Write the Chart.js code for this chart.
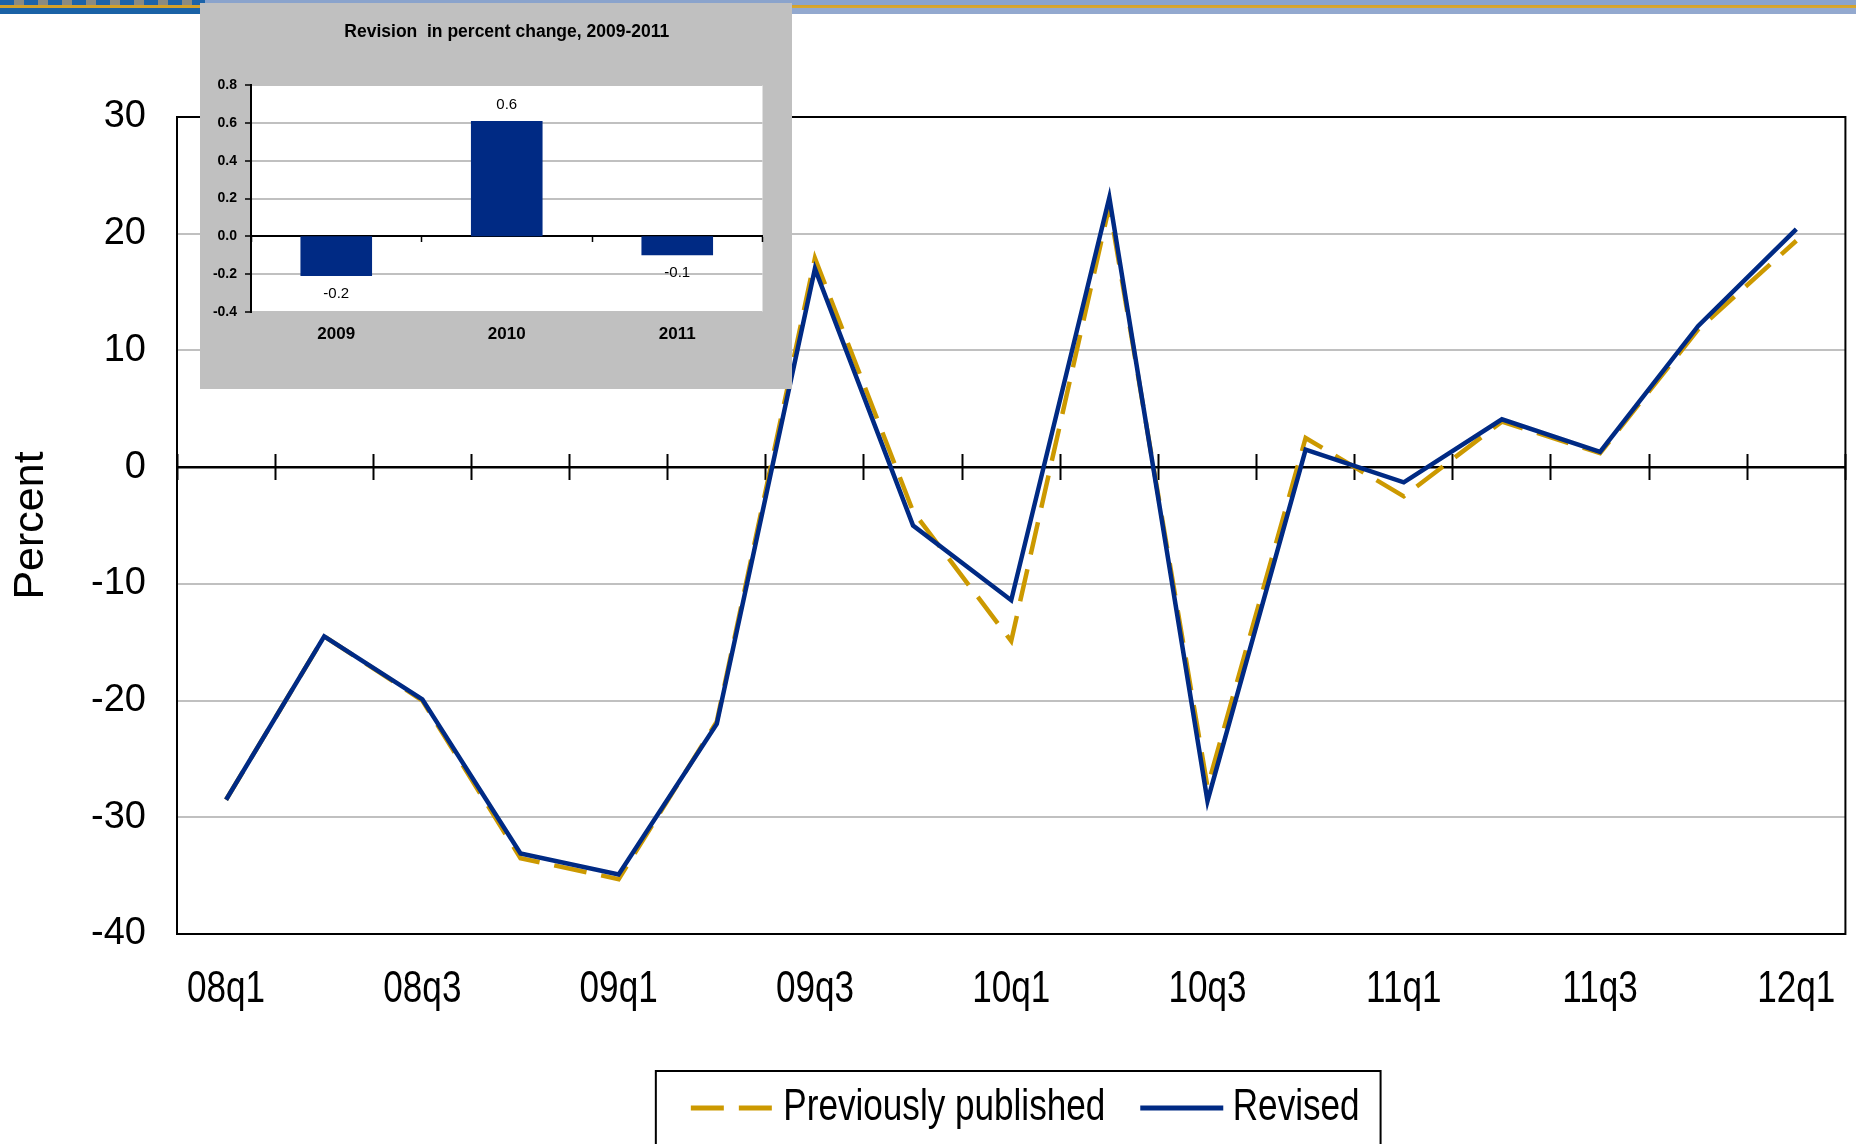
<!DOCTYPE html>
<html>
<head>
<meta charset="utf-8">
<script src="https://cdn.jsdelivr.net/npm/chart.js@4.4.1/dist/chart.umd.min.js"></script>
<style>
  html, body { margin: 0; padding: 0; background: #ffffff; }
  body { width: 1856px; height: 1144px; position: relative; overflow: hidden; }
  #banner { position: absolute; left: 0; top: 0; width: 1856px; height: 14px;
    background: linear-gradient(to bottom, #8aa3cc 0px, #8aa3cc 5px, #d4a12a 5px, #d9a830 8px, #93a9cf 8px, #93a9cf 14px); }
  #bannerLeft { position: absolute; left: 0; top: 0; width: 205px; height: 14px;
    background:
      linear-gradient(to bottom, transparent 0px, transparent 5px, #d4a12a 5px, #d4a12a 8px, #1a62a6 8px, #1a62a6 14px),
      repeating-linear-gradient(to right, #1c63a9 0px, #1c63a9 14px, #8c8b80 14px, #8c8b80 24px); }
  #main { position: absolute; left: 0; top: 0; width: 1856px; height: 1144px; }
  #insetWrap { position: absolute; left: 200px; top: 3px; width: 592px; height: 386px; background: #c0c0c0; }
</style>
</head>
<body>
<div id="banner"></div>
<div id="bannerLeft"></div>
<div id="main"><canvas id="mainChart" width="1856" height="1144"></canvas></div>
<div id="insetWrap"><canvas id="insetChart" width="592" height="386"></canvas></div>
<script>
// ---------- Data ----------
const quarters = ["08q1","08q2","08q3","08q4","09q1","09q2","09q3","09q4","10q1","10q2","10q3","10q4","11q1","11q2","11q3","11q4","12q1"];
const previouslyPublished = [-28.5, -14.5, -20.0, -33.5, -35.3, -21.8, 17.9, -3.8, -14.9, 22.4, -27.4, 2.5, -2.5, 3.9, 1.2, 11.8, 19.4];
const revised = [-28.5, -14.5, -19.9, -33.1, -34.9, -22.0, 17.0, -5.0, -11.4, 23.1, -28.6, 1.5, -1.3, 4.1, 1.3, 12.1, 20.4];
const yMin = -40, yMax = 30, yStep = 10;

const insetYears = ["2009", "2010", "2011"];
const insetRevision = [-0.21, 0.61, -0.10];
const insetMin = -0.4, insetMax = 0.8, insetStep = 0.2;
const insetTitle = "Revision  in percent change, 2009-2011";

// ---------- Style ----------
const NAVY = "#002A84";
const GOLD = "#CC9900";
const GRID = "#c0c0c0";
const SANS = '"Liberation Sans", Arial, sans-serif';
// "NarrowX" / "NarrowL" are not real fonts: they mark text that the narrowText plugin draws condensed
// (NarrowL also tightens the gap between a legend sample and its text).
const NARROW = 'NarrowX, "Liberation Sans", Arial, sans-serif';
const NARROW_LEGEND = 'NarrowL, "Liberation Sans", Arial, sans-serif';
const NARROW_SCALE = 0.78;
const LEGEND_GAP_TIGHTEN = 13;
const LEGEND_SHIFT = 14;

// ---------- Plugins ----------
const narrowText = {
  id: 'narrowText',
  beforeInit(chart) {
    const ctx = chart.ctx;
    const origFill = ctx.fillText.bind(ctx);
    const origMeasure = ctx.measureText.bind(ctx);
    const mode = () => {
      const f = String(ctx.font);
      if (f.indexOf('NarrowL') !== -1) return 2;
      if (f.indexOf('NarrowX') !== -1) return 1;
      return 0;
    };
    ctx.fillText = function (text, x, y, maxWidth) {
      const md = mode();
      if (md) {
        ctx.save();
        ctx.translate(md === 2 ? x - LEGEND_GAP_TIGHTEN : x, y);
        ctx.scale(NARROW_SCALE, 1);
        origFill(text, 0, 0);
        ctx.restore();
      } else if (maxWidth === undefined) {
        origFill(text, x, y);
      } else {
        origFill(text, x, y, maxWidth);
      }
    };
    ctx.measureText = function (text) {
      const m = origMeasure(text);
      const md = mode();
      if (md) {
        return {
          width: m.width * NARROW_SCALE - (md === 2 ? LEGEND_GAP_TIGHTEN : 0),
          actualBoundingBoxAscent: m.actualBoundingBoxAscent,
          actualBoundingBoxDescent: m.actualBoundingBoxDescent,
          actualBoundingBoxLeft: m.actualBoundingBoxLeft * NARROW_SCALE,
          actualBoundingBoxRight: m.actualBoundingBoxRight * NARROW_SCALE
        };
      }
      return m;
    };
  }
};

const legendNudge = {
  id: 'legendNudge',
  afterLayout(chart) {
    const lg = chart.legend;
    if (lg) { lg.left += LEGEND_SHIFT; lg.right += LEGEND_SHIFT; }
  }
};

const areaBorder = {
  id: 'areaBorder',
  afterDatasetsDraw(chart, args, opts) {
    if (!opts || !opts.draw) return;
    const {ctx, chartArea: a} = chart;
    ctx.save();
    ctx.strokeStyle = '#000';
    ctx.lineWidth = 2;
    ctx.strokeRect(a.left, a.top, a.right - a.left, a.bottom - a.top);
    ctx.restore();
  }
};

const legendBox = {
  id: 'legendBox',
  afterDraw(chart, args, opts) {
    if (!opts || !opts.draw) return;
    const lg = chart.legend;
    if (!lg || !lg.legendHitBoxes || !lg.legendHitBoxes.length) return;
    const boxes = lg.legendHitBoxes;
    let l = Infinity, r = -Infinity, cy = 0;
    boxes.forEach(b => { l = Math.min(l, b.left); r = Math.max(r, b.left + b.width); cy = b.top + b.height / 2; });
    const ctx = chart.ctx;
    ctx.save();
    ctx.strokeStyle = '#000';
    ctx.lineWidth = 2;
    ctx.strokeRect(l - 35, cy - 37, (r - l) + 56, 80);
    ctx.restore();
  }
};

const plotBg = {
  id: 'plotBg',
  beforeDraw(chart, args, opts) {
    if (!opts || !opts.color) return;
    const {ctx, chartArea: a} = chart;
    ctx.save();
    ctx.fillStyle = opts.color;
    ctx.fillRect(a.left, a.top, a.right - a.left, a.bottom - a.top);
    ctx.restore();
  }
};

const barValueLabels = {
  id: 'barValueLabels',
  afterDatasetsDraw(chart, args, opts) {
    if (!opts || !opts.draw) return;
    const ctx = chart.ctx;
    ctx.save();
    ctx.font = '15px ' + SANS;
    ctx.fillStyle = '#000';
    ctx.textAlign = 'center';
    ctx.textBaseline = 'middle';
    chart.data.datasets.forEach((ds, di) => {
      const meta = chart.getDatasetMeta(di);
      meta.data.forEach((el, i) => {
        const v = ds.data[i];
        const txt = v.toFixed(1);
        const y = v >= 0 ? el.y - 16 : el.y + 18;
        ctx.fillText(txt, el.x, y);
      });
    });
    ctx.restore();
  }
};

// ---------- Main chart ----------
new Chart(document.getElementById('mainChart'), {
  type: 'line',
  data: {
    labels: quarters,
    datasets: [
      {
        label: 'Previously published',
        data: previouslyPublished,
        borderColor: GOLD,
        backgroundColor: GOLD,
        borderWidth: 4.5,
        borderDash: [33, 15],
        pointRadius: 0,
        tension: 0,
        fill: false,
        order: 2
      },
      {
        label: 'Revised',
        data: revised,
        borderColor: NAVY,
        backgroundColor: NAVY,
        borderWidth: 4.5,
        pointRadius: 0,
        tension: 0,
        fill: false,
        order: 1
      }
    ]
  },
  options: {
    responsive: false,
    animation: false,
    devicePixelRatio: 1,
    layout: { autoPadding: false, padding: { top: 117, right: 4, left: 0, bottom: 3.5 } },
    plugins: {
      legend: {
        display: true,
        position: 'bottom',
        fullSize: false,
        labels: {
          usePointStyle: true,
          pointStyle: 'line',
          pointStyleWidth: 83,
          padding: 35,
          color: '#000',
          font: { family: NARROW_LEGEND, size: 45 },
          sort: (a, b) => a.datasetIndex - b.datasetIndex,
          generateLabels: (chart) => {
            const items = Chart.defaults.plugins.legend.labels.generateLabels(chart);
            items.forEach(it => {
              const ds = chart.data.datasets[it.datasetIndex];
              it.lineDash = ds.borderDash || [];
              it.lineWidth = 5;
              it.strokeStyle = ds.borderColor;
              it.fillStyle = ds.borderColor;
              it.pointStyle = 'line';
            });
            return items;
          }
        }
      },
      tooltip: { enabled: false },
      areaBorder: { draw: true },
      legendBox: { draw: true }
    },
    scales: {
      x: {
        type: 'category',
        position: 'bottom',
        offset: true,
        grid: { display: false },
        border: { display: false },
        ticks: {
          autoSkip: false,
          maxRotation: 0,
          padding: 20.5,
          color: '#000',
          font: { family: NARROW, size: 45 },
          callback: function (val, idx) { return idx % 2 === 0 ? this.getLabelForValue(val) : ''; }
        },
        afterFit: (s) => { s.height = 116.5; }
      },
      xTickDown: {
        type: 'category',
        position: { y: 0 },
        offset: true,
        grid: { display: true, offset: true, drawOnChartArea: false, drawTicks: true, tickLength: 13, tickColor: '#000', tickWidth: 2 },
        border: { display: false },
        ticks: { display: false }
      },
      xTickUp: {
        type: 'category',
        position: { y: 0 },
        offset: true,
        grid: { display: true, offset: true, drawOnChartArea: false, drawTicks: true, tickLength: -13, tickColor: '#000', tickWidth: 2 },
        border: { display: false },
        ticks: { display: false }
      },
      y: {
        type: 'linear',
        position: 'left',
        min: yMin,
        max: yMax,
        border: { display: false },
        grid: {
          drawTicks: false,
          color: (c) => (c.tick && c.tick.value === 0) ? '#000' : GRID,
          lineWidth: (c) => (c.tick && c.tick.value === 0) ? 2.5 : 2
        },
        ticks: {
          stepSize: yStep,
          padding: 31,
          color: '#000',
          font: { family: SANS, size: 38 }
        },
        title: {
          display: true,
          text: 'Percent',
          color: '#000',
          font: { family: SANS, size: 43 },
          padding: { top: 5, bottom: 0 }
        },
        afterFit: (s) => { s.width = 177; }
      }
    }
  },
  plugins: [narrowText, legendNudge, areaBorder, legendBox]
});

// ---------- Inset chart ----------
new Chart(document.getElementById('insetChart'), {
  type: 'bar',
  data: {
    labels: insetYears,
    datasets: [{
      label: 'Revision',
      data: insetRevision,
      backgroundColor: NAVY,
      borderWidth: 0,
      categoryPercentage: 1.0,
      barPercentage: 0.42
    }]
  },
  options: {
    responsive: false,
    animation: false,
    devicePixelRatio: 1,
    layout: { autoPadding: false, padding: { top: 0, right: 29.5, left: 0, bottom: 0 } },
    plugins: {
      legend: { display: false },
      tooltip: { enabled: false },
      title: {
        display: true,
        fullSize: false,
        text: insetTitle,
        color: '#000',
        font: { family: SANS, size: 17.5, weight: 'bold' },
        padding: { top: 19, bottom: 42 }
      },
      plotBg: { color: '#ffffff' },
      barValueLabels: { draw: true }
    },
    scales: {
      x: {
        type: 'category',
        position: 'bottom',
        grid: { display: false },
        border: { display: false },
        ticks: {
          padding: 4,
          color: '#000',
          font: { family: SANS, size: 17, weight: 'bold' }
        },
        afterFit: (s) => { s.height = 77; }
      },
      xZero: {
        type: 'category',
        position: { y: 0 },
        grid: { display: true, offset: true, drawOnChartArea: false, drawTicks: true, tickLength: 5, tickColor: '#000', tickWidth: 1.5 },
        border: { display: true, color: '#000', width: 2 },
        ticks: { display: false }
      },
      y: {
        type: 'linear',
        position: 'left',
        min: insetMin,
        max: insetMax,
        border: { display: true, color: '#000', width: 2 },
        grid: {
          color: GRID,
          lineWidth: 2,
          drawTicks: true,
          tickLength: 6,
          tickColor: '#000',
          tickWidth: 1.5
        },
        ticks: {
          stepSize: insetStep,
          padding: 8,
          color: '#000',
          font: { family: SANS, size: 14, weight: 'bold' },
          callback: (v) => Number(v).toFixed(1)
        },
        afterFit: (s) => { s.width = 51; }
      }
    }
  },
  plugins: [plotBg, barValueLabels]
});
</script>
</body>
</html>
